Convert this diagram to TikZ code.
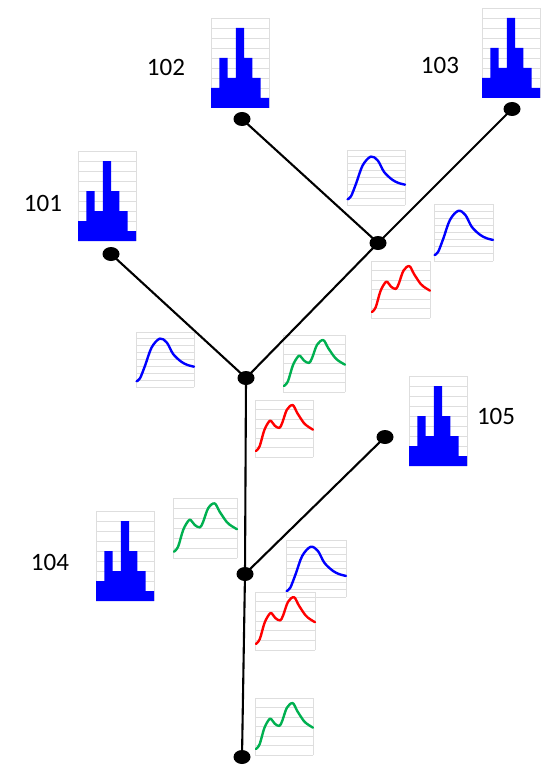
\documentclass[tikz,border=0pt]{standalone}
\usepackage{fontspec}
\setmainfont{Carlito}
\usetikzlibrary{shapes.geometric}
\definecolor{hblue}{RGB}{0,0,255}
\definecolor{cgreen}{RGB}{0,176,80}
\definecolor{cred}{RGB}{255,0,0}
\definecolor{gridgray}{RGB}{222,222,222}
\tikzset{
  gridline/.style={draw=gridgray, line width=0.8pt},
  curve/.style={line width=2.4pt, line cap=round, line join=round},
  edge/.style={line width=2.1pt, black},
  dot/.style={ellipse, fill=black, minimum width=17pt, minimum height=14pt, inner sep=0pt},
  lab/.style={font=\fontsize{25}{30}\selectfont, text=black}
}
% histogram: bottom-left corner in px
\newcommand\histo[2]{%
  \begin{scope}[xshift=#1pt, yshift=-#2pt, x=1pt, y=1pt]
    \foreach \k in {1,...,9} \draw[gridline] (0,\k*10) -- (58,\k*10);
    \draw[gridline] (0,0) -- (0,90) (58,0) -- (58,90);
    \fill[hblue] (0,0) |- (8.286,20) |- (16.571,50) |- (24.857,30) |- (33.143,80)
      |- (41.429,50) |- (49.714,30) |- (58,10) -- (58,0) -- cycle;
  \end{scope}}
\newcommand\bluecurve[1]{%
  \foreach \k in {1,...,8} \draw[gridline] (0,\k/8) -- (1,\k/8);
  \draw[curve,#1] plot[smooth, tension=0.55] coordinates {(0.01,0.105) (0.07,0.16) (0.16,0.40) (0.27,0.72) (0.41,0.88) (0.53,0.81) (0.64,0.60) (0.78,0.46) (0.89,0.40) (1.0,0.37)};}
\newcommand\bimodalcurve[1]{%
  \foreach \k in {1,...,6} \draw[gridline] (0,\k/6) -- (1,\k/6);
  \draw[curve,#1] plot[smooth, tension=0.55] coordinates {(0.016,0.105) (0.08,0.19) (0.16,0.47) (0.24,0.62) (0.28,0.63) (0.34,0.55) (0.42,0.51) (0.47,0.60) (0.55,0.83) (0.65,0.91) (0.73,0.77) (0.84,0.60) (0.92,0.53) (1.0,0.48)};}
% curve plot: left x, bottom y (px), width, height, colour, curve command
\newcommand\cplot[6]{%
  \begin{scope}[xshift=#1pt, yshift=-#2pt, x=#3pt, y=#4pt]
    \draw[gridline] (0,0) -- (1,0) (0,0) -- (0,1) (1,0) -- (1,1);
    #6{#5}
  \end{scope}}
\begin{document}
\begin{tikzpicture}[x=1pt, y=-1pt]
\useasboundingbox (0,0) rectangle (543,765);
% histograms
\histo{211}{108}
\histo{482}{98}
\histo{78}{241}
\histo{409}{466}
\histo{96}{601}
% curve plots
\cplot{347}{205}{58}{55}{hblue}{\bluecurve}
\cplot{434}{261}{59}{57}{hblue}{\bluecurve}
\cplot{371}{318}{59}{57}{cred}{\bimodalcurve}
\cplot{283}{392}{62}{57}{cgreen}{\bimodalcurve}
\cplot{136}{387}{58}{55}{hblue}{\bluecurve}
\cplot{255}{457}{58}{57}{cred}{\bimodalcurve}
\cplot{173}{558}{64}{60}{cgreen}{\bimodalcurve}
\cplot{286}{597}{60}{57}{hblue}{\bluecurve}
\cplot{255}{650}{60}{58}{cred}{\bimodalcurve}
\cplot{255}{755}{58}{57}{cgreen}{\bimodalcurve}
% nodes
\node[dot] (n102) at (242,119) {};
\node[dot] (n103) at (512,109) {};
\node[dot] (n101) at (111,254) {};
\node[dot] (nA) at (378,243) {};
\node[dot] (nB) at (246,378) {};
\node[dot] (n105) at (385,437) {};
\node[dot] (nC) at (245,574) {};
\node[dot] (nR) at (242,757) {};
% edges
\draw[edge] (n102.center) -- (nA.center);
\draw[edge] (n103.center) -- (nA.center);
\draw[edge] (nA.center) -- (nB.center);
\draw[edge] (n101.center) -- (nB.center);
\draw[edge] (nB.center) -- (nC.center);
\draw[edge] (n105.center) -- (nC.center);
\draw[edge] (nC.center) -- (nR.center);
% labels
\node[lab] (l102) at (166,67) {102};
\node[lab] (l103) at (440,65) {103};
\node[lab] (l101) at (43,203) {101};
\node[lab] (l105) at (496,416) {105};
\node[lab] (l104) at (50,562) {104};
\end{tikzpicture}
\end{document}
